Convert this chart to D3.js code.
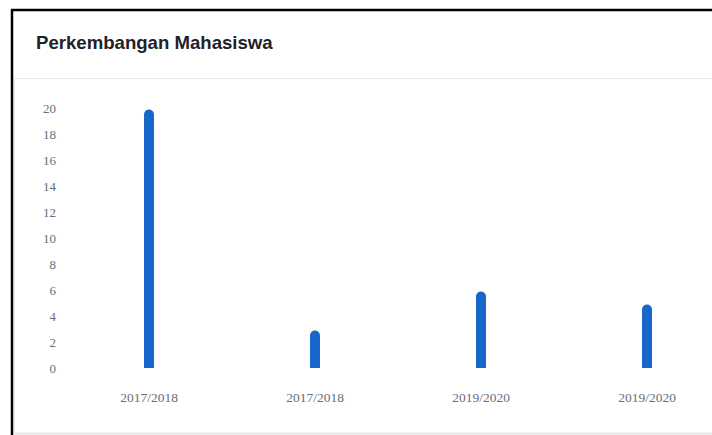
<!DOCTYPE html>
<html>
<head>
<meta charset="utf-8">
<script src="https://cdn.jsdelivr.net/npm/d3@7"></script>
<style>
    body { margin: 0; background: #fff; }
    #chart { width: 712px; height: 435px; overflow: hidden; }
</style>
</head>
<body>
<div id="chart"></div>
<script>
// data
let categories = ["2017/2018", "2017/2018 ", "2019/2020", "2019/2020 "];
let tickLabels = ["2017/2018", "2017/2018", "2019/2020", "2019/2020"];
let values = [20, 3, 6, 5];
let yTicks = [0, 2, 4, 6, 8, 10, 12, 14, 16, 18, 20];

let width = 712, height = 435;

let svg = d3.select("#chart").append("svg")
    .attr("width", width)
    .attr("height", height);

// card frame
svg.append("rect")
    .attr("x", 12).attr("y", 10)
    .attr("width", 760).attr("height", 600)
    .attr("fill", "#fff")
    .attr("stroke", "#000")
    .attr("stroke-width", 2.5);

svg.append("line")
    .attr("x1", 14).attr("x2", width)
    .attr("y1", 78.5).attr("y2", 78.5)
    .attr("stroke", "#ececec");

svg.append("line")
    .attr("x1", 14).attr("x2", width)
    .attr("y1", 433.5).attr("y2", 433.5)
    .attr("stroke", "#e6e6e6")
    .attr("stroke-width", 2);

svg.append("line")
    .attr("x1", 14.5).attr("x2", 14.5)
    .attr("y1", 79).attr("y2", height)
    .attr("stroke", "#efefef");

svg.append("text")
    .attr("x", 36).attr("y", 49)
    .attr("font-family", "Liberation Sans, Arial, sans-serif")
    .attr("font-weight", "bold")
    .attr("font-size", "18.6px")
    .attr("fill", "#1f2226")
    .text("Perkembangan Mahasiswa");

// scales
let x = d3.scaleBand()
    .domain(categories)
    .range([66, 730]);

let y = d3.scaleLinear()
    .domain([0, 20])
    .range([368, 108]);

let yAxis = svg.append("g")
    .attr("transform", "translate(56,0)")
    .call(d3.axisLeft(y).tickValues(yTicks).tickSize(0).tickPadding(0));
yAxis.select(".domain").remove();
yAxis.selectAll("text")
    .attr("font-family", "Liberation Serif, Times New Roman, serif")
    .attr("font-size", "13px")
    .attr("fill", "#666e7c");

let xAxis = svg.append("g")
    .attr("transform", "translate(0,392)")
    .call(d3.axisBottom(x).tickSize(0).tickPadding(0).tickFormat((d, i) => tickLabels[i]));
xAxis.select(".domain").remove();
xAxis.selectAll("text")
    .attr("font-family", "Liberation Serif, Times New Roman, serif")
    .attr("font-size", "13.5px")
    .attr("fill", "#666e7c");

// bars with rounded top
let barW = 10, r = 5;
svg.selectAll(".bar")
    .data(values)
    .enter()
    .append("path")
    .attr("class", "bar")
    .attr("fill", "#1766c9")
    .attr("d", (d, i) => {
        let cx = x(categories[i]) + x.bandwidth() / 2;
        let x0 = cx - barW / 2, x1 = cx + barW / 2;
        let top = y(d) + 1.5, base = y(0);
        return `M${x0},${base} L${x0},${top + r} A${r},${r} 0 0 1 ${x1},${top + r} L${x1},${base} Z`;
    });
</script>
</body>
</html>
